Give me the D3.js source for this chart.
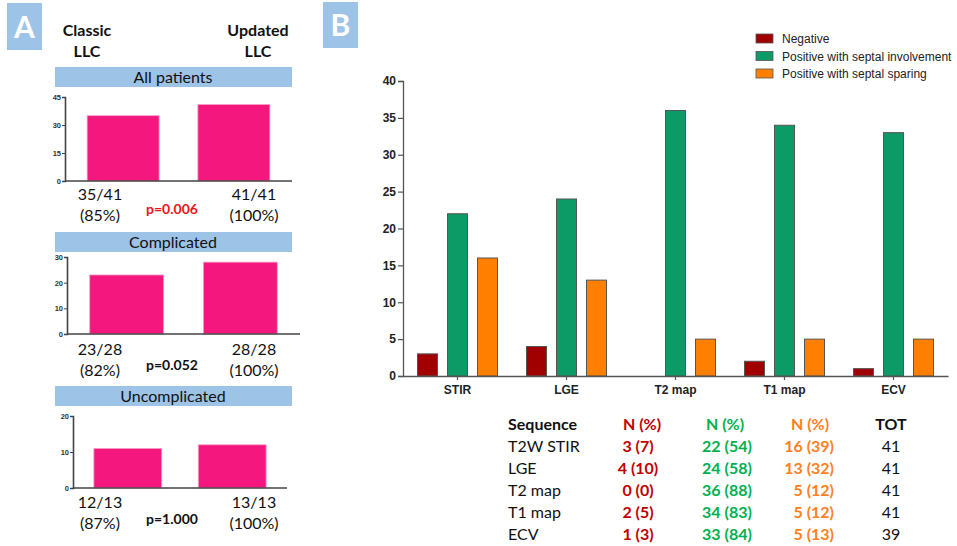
<!DOCTYPE html>
<html><head><meta charset="utf-8">
<script src="https://cdn.jsdelivr.net/npm/d3@7/dist/d3.min.js"></script>
<style>body{margin:0;background:#fff}svg{display:block}</style>
</head><body><svg id="c" width="957" height="546"></svg>
<script>
// ---------- Panel A data ----------
const panelAGroups = ["All patients", "Complicated", "Uncomplicated"];
const panelAMethods = ["Classic LLC", "Updated LLC"];
const panelAValues = [[35, 41], [23, 28], [11, 12]];
const panelAMax = [45, 30, 20];
const panelATicks = [[0, 15, 30, 45], [0, 10, 20, 30], [0, 10, 20]];
const panelAFractions = [["35/41", "41/41"], ["23/28", "28/28"], ["12/13", "13/13"]];
const panelAPercents = [["(85%)", "(100%)"], ["(82%)", "(100%)"], ["(87%)", "(100%)"]];
const panelAPvalues = ["p=0.006", "p=0.052", "p=1.000"];

// ---------- Panel B data ----------
const sequences = ["STIR", "LGE", "T2 map", "T1 map", "ECV"];
const seriesNames = ["Negative", "Positive with septal involvement", "Positive with septal sparing"];
const negative = [3, 4, 0, 2, 1];
const septalInvolvement = [22, 24, 36, 34, 33];
const septalSparing = [16, 13, 5, 5, 5];
const yTicksB = [0, 5, 10, 15, 20, 25, 30, 35, 40];

// ---------- Table data ----------
const tableSequences = ["T2W STIR", "LGE", "T2 map", "T1 map", "ECV"];
const negativePct = [7, 10, 0, 5, 3];
const involvementPct = [54, 58, 88, 83, 84];
const sparingPct = [39, 32, 12, 12, 13];
const totals = [41, 41, 41, 41, 39];

const svg = d3.select("#c");
const calibri = "Lato, 'Open Sans', sans-serif";
const arial = "'Liberation Sans', Arial, sans-serif";
const bandBlue = "#9dc3e6";
const pink = "#f3177e";

// Panel letters
function letterBox(x, y, w, h, t) {
  svg.append("rect").attr("x", x).attr("y", y).attr("width", w).attr("height", h).attr("fill", bandBlue);
  svg.append("text").attr("x", x + w / 2).attr("y", y + h / 2 + 11).attr("text-anchor", "middle")
    .attr("font-family", calibri).attr("font-weight", 700).attr("font-size", 30).attr("fill", "#fff").text(t);
}
letterBox(7, 3, 35, 47, "A");
letterBox(323, 2, 35, 46, "B");

// Column headers panel A
const headerX = [87, 258];
panelAMethods.forEach((m, i) => {
  const parts = m.split(" ");
  parts.forEach((p, j) => {
    svg.append("text").attr("x", headerX[i]).attr("y", 36 + j * 21).attr("text-anchor", "middle")
      .attr("font-family", calibri).attr("font-weight", 700).attr("font-size", 16).attr("fill", "#111").text(p);
  });
});

// Mini chart layouts
const miniLayout = [
  {bandTop: 67, axisX: 65, xEnd: 292, y0: 181, yTop: 97, labY: 200, pColor: "#e8161b", pY: 214},
  {bandTop: 232, axisX: 67, xEnd: 300, y0: 334, yTop: 257, labY: 355, pColor: "#111", pY: 370},
  {bandTop: 386, axisX: 73, xEnd: 287, y0: 488, yTop: 416, labY: 508, pColor: "#111", pY: 524}
];
const labelX = [100, 254];

panelAGroups.forEach((g, gi) => {
  const L = miniLayout[gi];
  svg.append("rect").attr("x", 55).attr("y", L.bandTop).attr("width", 237).attr("height", 20).attr("fill", bandBlue);
  svg.append("text").attr("x", 173).attr("y", L.bandTop + 16).attr("text-anchor", "middle")
    .attr("font-family", calibri).attr("font-size", 16).attr("fill", "#111").text(g);

  const y = d3.scaleLinear().domain([0, panelAMax[gi]]).range([L.y0, L.yTop]);
  const x = d3.scaleBand().domain(panelAMethods).range([L.axisX, L.xEnd]).paddingInner(0.35).paddingOuter(0.2);
  const gA = svg.append("g");
  gA.selectAll("rect.bar").data(panelAValues[gi]).join("rect").attr("class", "bar")
    .attr("x", (d, i) => x(panelAMethods[i])).attr("width", x.bandwidth())
    .attr("y", d => y(d)).attr("height", d => L.y0 - y(d))
    .attr("fill", pink).attr("stroke", "#f9a0c8").attr("stroke-width", 0.8);
  const ax = gA.append("g").attr("transform", `translate(${L.axisX},0)`)
    .call(d3.axisLeft(y).tickValues(panelATicks[gi]).tickSize(3).tickPadding(1));
  ax.select(".domain").attr("stroke", "#444").attr("stroke-width", 1.6);
  ax.selectAll(".tick line").attr("stroke", "#444");
  ax.selectAll("text").attr("font-family", arial).attr("font-size", 7.5).attr("font-weight", 700).attr("fill", "#333");
  gA.append("line").attr("x1", L.axisX).attr("x2", L.xEnd).attr("y1", L.y0).attr("y2", L.y0)
    .attr("stroke", "#444").attr("stroke-width", 1.6);

  [0, 1].forEach(i => {
    svg.append("text").attr("x", labelX[i]).attr("y", L.labY).attr("text-anchor", "middle")
      .attr("font-family", calibri).attr("font-size", 16).attr("fill", "#111").text(panelAFractions[gi][i]);
    svg.append("text").attr("x", labelX[i]).attr("y", L.labY + 21).attr("text-anchor", "middle")
      .attr("font-family", calibri).attr("font-size", 16).attr("fill", "#111").text(panelAPercents[gi][i]);
  });
  svg.append("text").attr("x", 172).attr("y", L.pY).attr("text-anchor", "middle")
    .attr("font-family", calibri).attr("font-weight", 700).attr("font-size", 14).attr("fill", L.pColor).text(panelAPvalues[gi]);
});

// ---------- Panel B chart ----------
const colorsB = ["#a00000", "#0c9a66", "#ff8000"];
const seriesValues = [negative, septalInvolvement, septalSparing];
const xB = d3.scaleBand().domain(sequences).range([403, 948]).padding(0);
const xInner = d3.scaleBand().domain(seriesNames).range([xB.bandwidth() / 2 - 45, xB.bandwidth() / 2 + 45])
  .paddingInner(1 / 3).paddingOuter(1 / 6);
const yB = d3.scaleLinear().domain([0, 40]).range([376, 81]);

const gB = svg.append("g");
sequences.forEach((s, si) => {
  seriesNames.forEach((n, ni) => {
    const v = seriesValues[ni][si];
    if (v <= 0) return;
    gB.append("rect").attr("x", xB(s) + xInner(n)).attr("width", xInner.bandwidth())
      .attr("y", yB(v)).attr("height", yB(0) - yB(v))
      .attr("fill", colorsB[ni]).attr("stroke", "#555").attr("stroke-width", 1);
  });
});
const yAxB = gB.append("g").attr("transform", "translate(403,0)")
  .call(d3.axisLeft(yB).tickValues(yTicksB).tickSize(5).tickPadding(2));
yAxB.select(".domain").attr("stroke", "#555").attr("stroke-width", 1.3);
yAxB.selectAll(".tick line").attr("stroke", "#555").attr("stroke-width", 1.2);
yAxB.selectAll("text").attr("font-family", arial).attr("font-size", 12).attr("font-weight", 700).attr("fill", "#222");
const xAxB = gB.append("g").attr("transform", "translate(0,376)")
  .call(d3.axisBottom(xB).tickSize(4).tickSizeOuter(0).tickPadding(5));
xAxB.select(".domain").attr("stroke", "#555").attr("stroke-width", 1.3);
xAxB.selectAll(".tick line").attr("stroke", "#555").attr("stroke-width", 1.2);
xAxB.selectAll("text").attr("font-family", arial).attr("font-size", 12).attr("font-weight", 700).attr("fill", "#222");

// Legend
const leg = svg.append("g");
seriesNames.forEach((n, i) => {
  leg.append("rect").attr("x", 756).attr("y", 34 + i * 17.5).attr("width", 17).attr("height", 9)
    .attr("fill", colorsB[i]).attr("stroke", "#555").attr("stroke-width", 0.8);
  leg.append("text").attr("x", 782).attr("y", 43 + i * 17.5)
    .attr("font-family", arial).attr("font-size", 12).attr("fill", "#222").text(n);
});

// ---------- Table ----------
const tColors = ["#c00000", "#00b050", "#ff7f1e"];
const rowY0 = 430, rowStep = 22;
const tf = (t, x, y, anchor, color, bold) =>
  svg.append("text").attr("x", x).attr("y", y).attr("text-anchor", anchor).attr("font-family", calibri)
    .attr("font-size", 16).attr("font-weight", bold ? 700 : 400).attr("fill", color).text(t);
tf("Sequence", 508, rowY0, "start", "#111", true);
tf("N (%)", 642, rowY0, "middle", tColors[0], true);
tf("N (%)", 725, rowY0, "middle", tColors[1], true);
tf("N (%)", 810, rowY0, "middle", tColors[2], true);
tf("TOT", 891, rowY0, "middle", "#111", true);
tableSequences.forEach((s, i) => {
  const y = rowY0 + (i + 1) * rowStep;
  tf(s, 508, y, "start", "#111", false);
  tf(`${negative[i]} (${negativePct[i]})`, 638, y, "middle", tColors[0], true);
  tf(`${septalInvolvement[i]} (${involvementPct[i]})`, 727, y, "middle", tColors[1], true);
  tf(`${septalSparing[i]} (${sparingPct[i]})`, 834, y, "end", tColors[2], true);
  tf(`${totals[i]}`, 891, y, "middle", "#111", false);
});
</script></body></html>
